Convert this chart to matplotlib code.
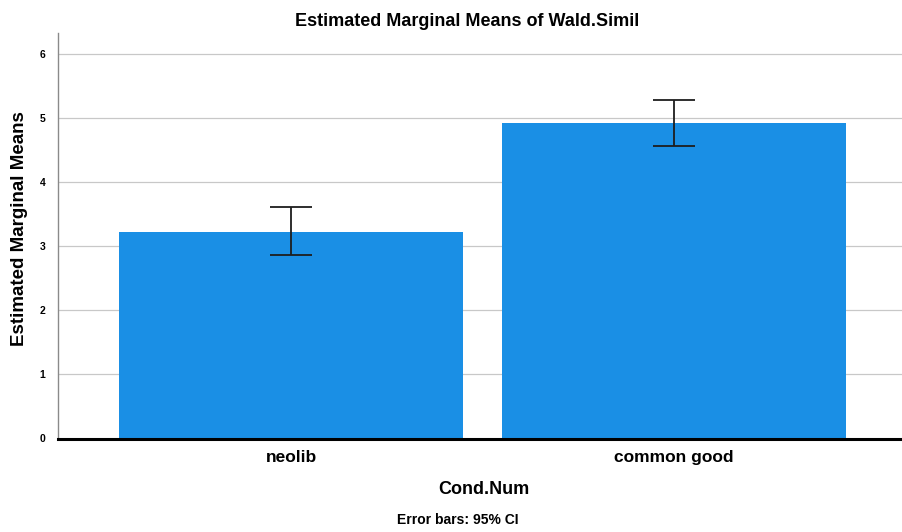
import matplotlib
matplotlib.use("Agg")
import matplotlib.pyplot as plt
import numpy as np

plt.rcParams['font.family'] = ['Liberation Sans', 'DejaVu Sans']

# Estimated marginal means with 95% CI
categories = ["neolib", "common good"]
means = [3.23, 4.93]
ci_lower = [2.86, 4.57]
ci_upper = [3.62, 5.28]
y_ticks = [0, 1, 2, 3, 4, 5, 6]

fig = plt.figure(figsize=(9.03, 5.32), dpi=100)
ax = fig.add_axes([58 / 903, 1 - 438.5 / 532, 1 - 58 / 903, (438.5 - 33) / 532])

x = np.arange(len(categories))
means_arr = np.array(means)
yerr = np.vstack([means_arr - np.array(ci_lower), np.array(ci_upper) - means_arr])

ax.bar(x, means, width=0.9, color="#1a8fe5", zorder=2)
ax.errorbar(x, means, yerr=yerr, fmt="none", ecolor="#1e1e1e",
            elinewidth=1.3, capsize=14.8, capthick=1.3, zorder=3)

ax.set_xlim(-0.61, 1.6)
ax.set_ylim(0, 6.33)
ax.set_yticks(y_ticks)
ax.set_yticklabels([str(t) for t in y_ticks], fontsize=7.5, fontweight="bold")
ax.set_xticks(x)
ax.set_xticklabels(categories, fontsize=12.5, fontweight="bold")
ax.tick_params(axis="both", length=0)
ax.tick_params(axis="y", pad=9)
ax.tick_params(axis="x", pad=8)

ax.grid(axis="y", color="#c8c8c8", linewidth=0.9, zorder=0)
ax.set_axisbelow(True)
for side in ("top", "right"):
    ax.spines[side].set_visible(False)
ax.spines["left"].set_color("#8a8a8a")
ax.spines["left"].set_linewidth(1.0)
ax.spines["bottom"].set_color("black")
ax.spines["bottom"].set_linewidth(2.2)
ax.spines["bottom"].set_zorder(4)

ax.set_ylabel("Estimated Marginal Means", fontsize=13.5, fontweight="bold")
ax.yaxis.set_label_coords(-(58 - 20) / 845, (438.5 - 229) / 405.5)
ax.set_xlabel("Cond.Num", fontsize=13, fontweight="bold")
ax.xaxis.set_label_coords((484 - 58) / 845, -(489 - 438.5) / 405.5)
ax.xaxis.label.set_va("center")
ax.yaxis.label.set_va("center")

fig.text(467 / 903, 1 - 21 / 532, "Estimated Marginal Means of Wald.Simil",
         ha="center", va="center", fontsize=13, fontweight="bold")
fig.text(458 / 903, 1 - 520 / 532, "Error bars: 95% CI",
         ha="center", va="center", fontsize=10, fontweight="bold")

fig.savefig("out.png", dpi=100, facecolor="white")
